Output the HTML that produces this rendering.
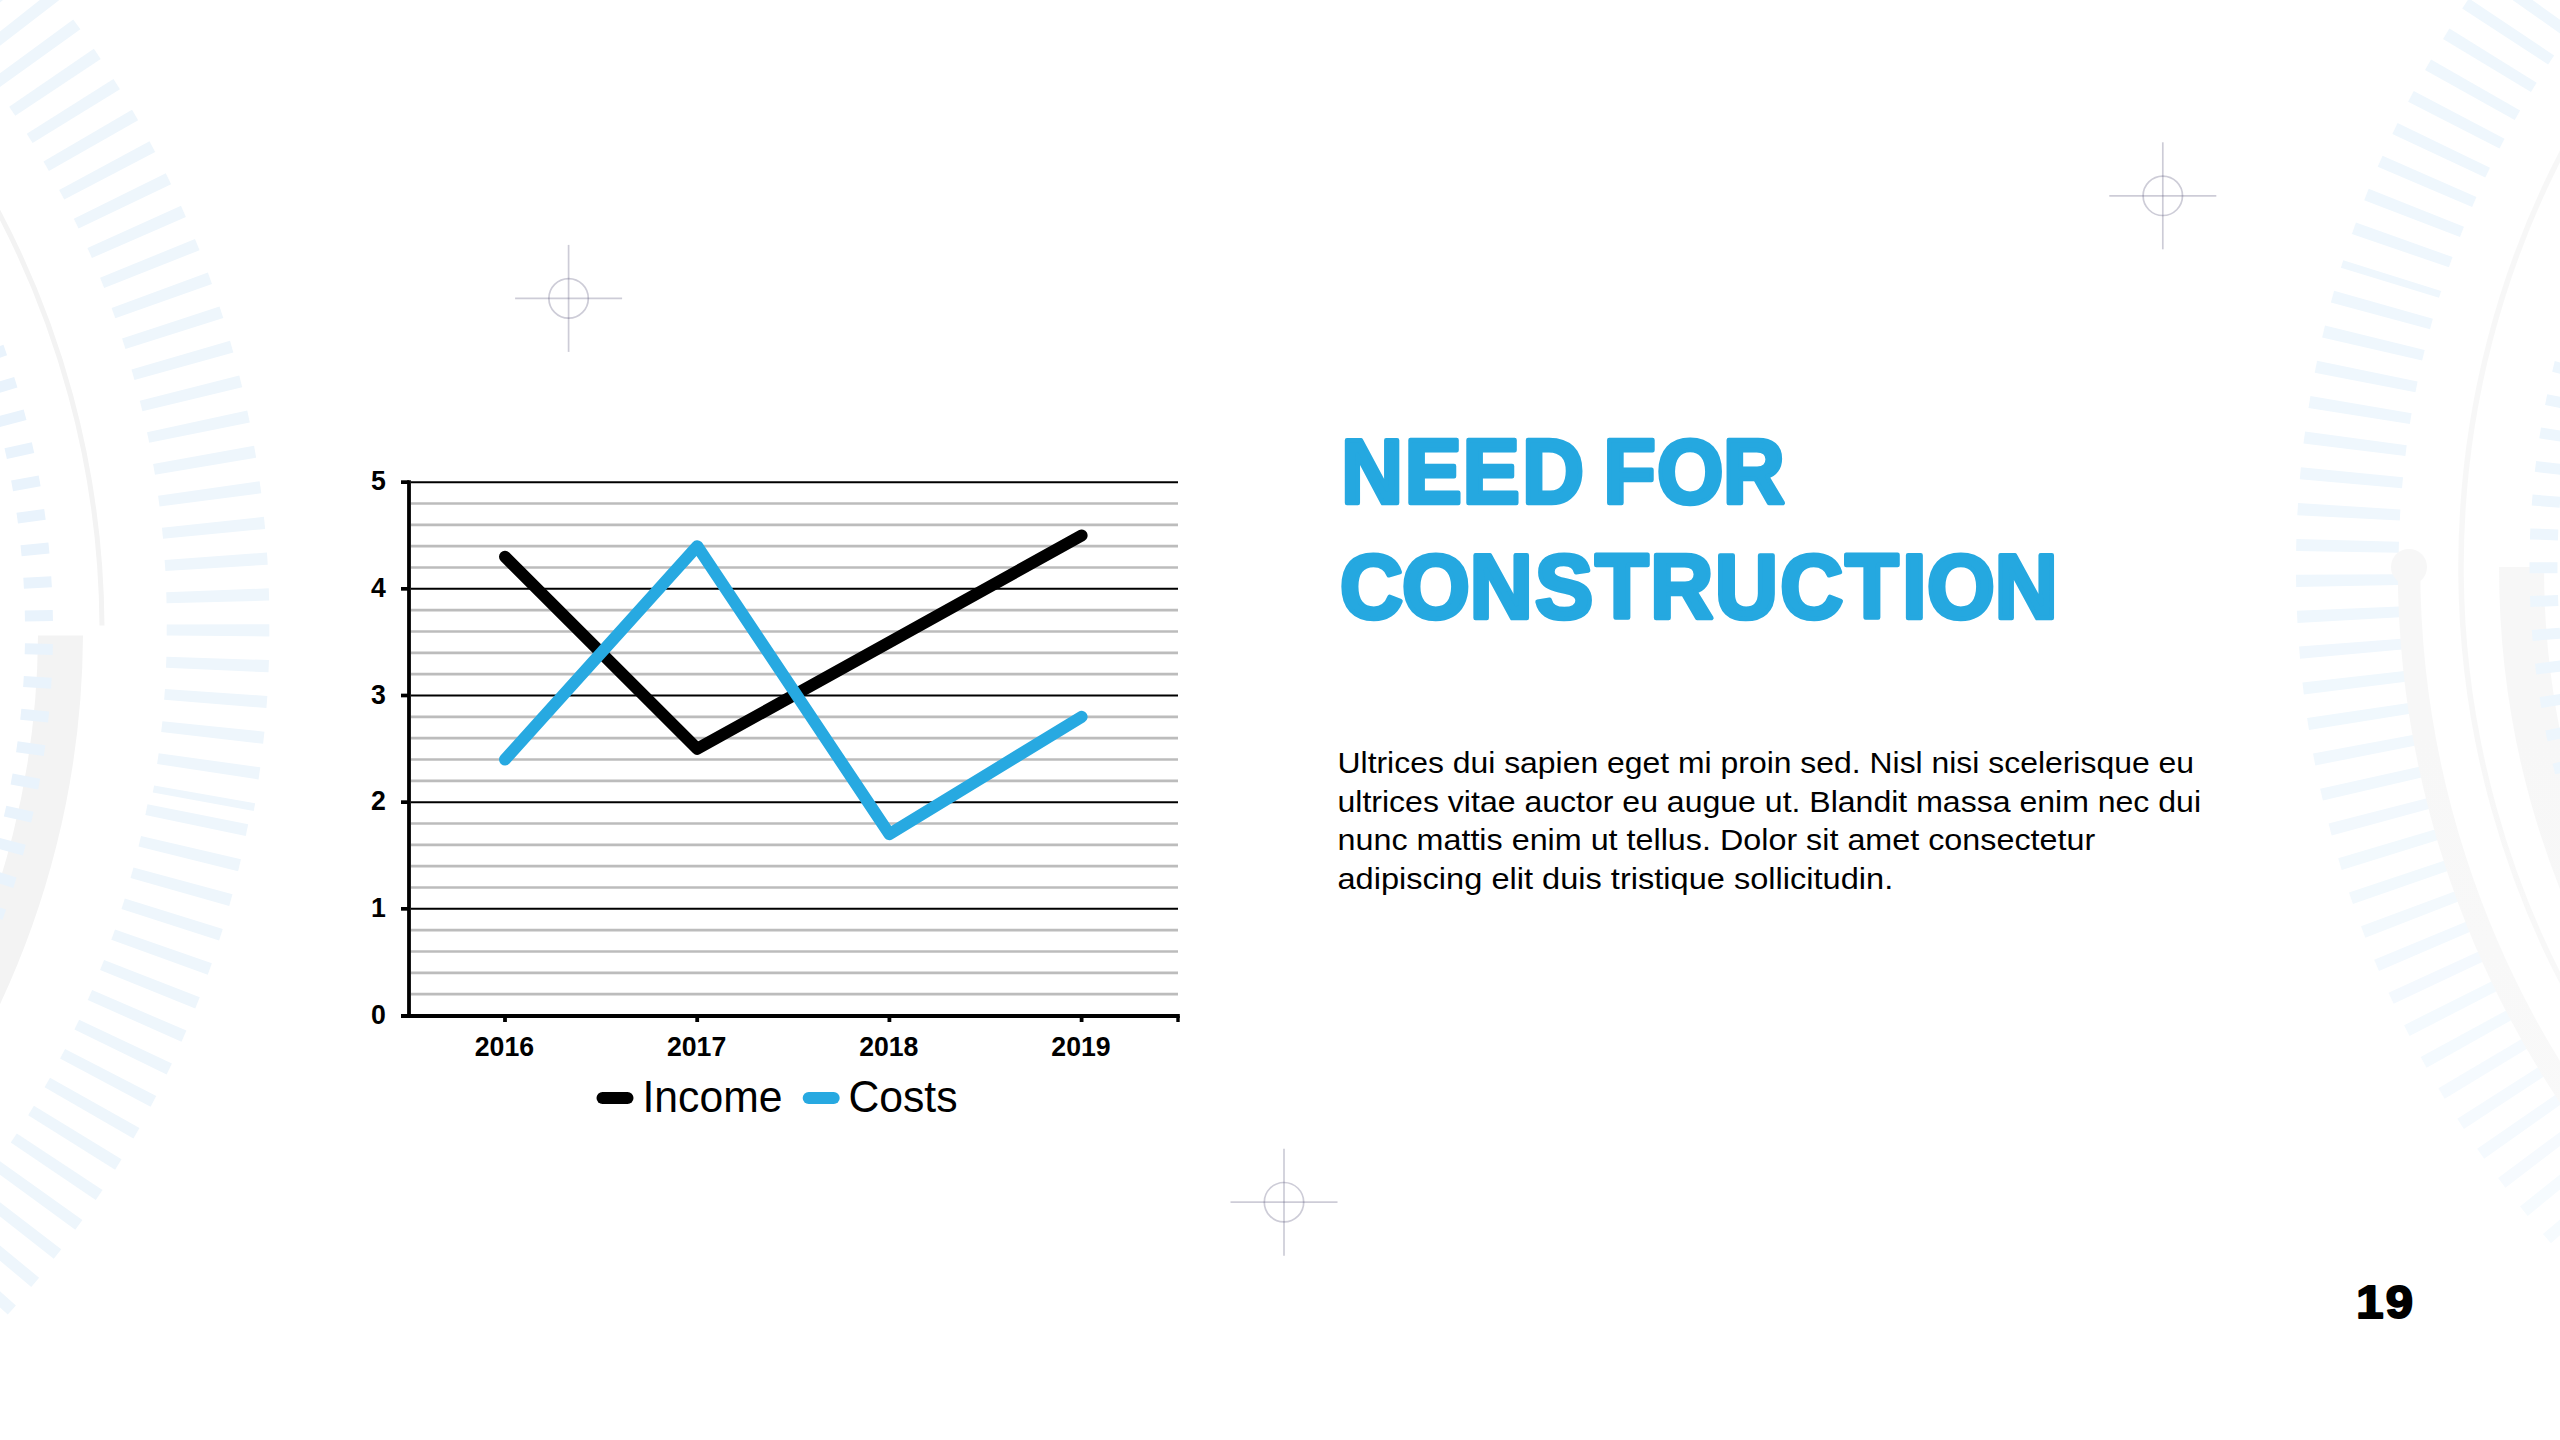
<!DOCTYPE html>
<html lang="en"><head><meta charset="utf-8"><title>Need for construction</title>
<style>
html,body{margin:0;padding:0;background:#fff;}
body{width:2560px;height:1440px;overflow:hidden;position:relative;font-family:"Liberation Sans",sans-serif;}
svg{position:absolute;left:0;top:0;display:block;}
</style></head><body>
<svg width="2560" height="1440" viewBox="0 0 2560 1440">
<defs><linearGradient id="fadeR" gradientUnits="userSpaceOnUse" x1="0" y1="560" x2="0" y2="1150"><stop offset="0" stop-color="#f7f7f7"/><stop offset="0.3" stop-color="#f7f7f7"/><stop offset="1" stop-color="#f9f9f9"/></linearGradient></defs>
<rect width="2560" height="1440" fill="#fff"/>
<g id="bg">
<polygon points="-62.21,-132.42 -71.29,-140.58 -139.36,-63.81 -131.25,-56.52" fill="#eef6fc"/>
<polygon points="-36.12,-107.61 -44.9,-116.08 -115.63,-41.74 -107.78,-34.18" fill="#eef6fc"/>
<polygon points="-10.91,-81.9 -19.39,-90.67 -92.68,-18.87 -85.11,-11.03" fill="#eef6fc"/>
<polygon points="13.37,-55.33 5.2,-64.39 -70.56,4.8 -63.27,12.89" fill="#eef6fc"/>
<polygon points="36.7,-27.92 28.86,-37.26 -49.29,29.22 -42.28,37.57" fill="#eef6fc"/>
<polygon points="59.05,0.28 51.54,-9.33 -28.9,54.37 -22.18,62.96" fill="#eef6fc"/>
<polygon points="80.39,29.25 73.22,19.38 -9.4,80.21 -2.99,89.03" fill="#eef6fc"/>
<polygon points="100.7,58.94 93.88,48.82 9.18,106.72 15.27,115.76" fill="#eef6fc"/>
<polygon points="119.95,89.32 113.49,78.97 26.8,133.86 32.58,143.1" fill="#eef6fc"/>
<polygon points="138.12,120.35 132.03,109.79 43.47,161.59 48.91,171.04" fill="#eef6fc"/>
<polygon points="155.19,152 149.47,141.22 59.14,189.89 64.25,199.52" fill="#eef6fc"/>
<polygon points="171.13,184.22 165.79,173.25 73.81,218.72 78.58,228.52" fill="#eef6fc"/>
<polygon points="185.92,216.98 180.97,205.82 87.46,248.03 91.88,258" fill="#eef6fc"/>
<polygon points="199.56,250.22 195,238.91 100.06,277.81 104.13,287.92" fill="#eef6fc"/>
<polygon points="212.01,283.92 207.86,272.45 111.61,308 115.32,318.24" fill="#eef6fc"/>
<polygon points="223.28,318.04 219.53,306.43 122.09,338.57 125.44,348.94" fill="#eef6fc"/>
<polygon points="233.34,352.51 230,340.78 131.49,369.48 134.47,379.97" fill="#eef6fc"/>
<polygon points="242.18,387.32 239.25,375.48 139.8,400.7 142.41,411.28" fill="#eef6fc"/>
<polygon points="249.79,422.41 247.28,410.47 147,432.19 149.24,442.85" fill="#eef6fc"/>
<polygon points="256.16,457.74 254.07,445.72 153.1,463.9 154.96,474.64" fill="#eef6fc"/>
<polygon points="261.29,493.26 259.62,481.17 158.07,495.8 159.56,506.6" fill="#eef6fc"/>
<polygon points="265.16,528.94 263.93,516.8 161.92,527.85 163.03,538.69" fill="#eef6fc"/>
<polygon points="267.78,564.72 266.97,552.55 164.64,560.01 165.37,570.89" fill="#eef6fc"/>
<polygon points="269.15,600.57 268.76,588.37 166.24,592.24 166.58,603.13" fill="#eef6fc"/>
<polygon points="269.29,636.43 269.33,624.23 166.73,624.5 166.69,635.4" fill="#eef6fc"/>
<polygon points="268.49,672.29 268.96,660.1 166.41,656.76 165.99,667.65" fill="#eef6fc"/>
<polygon points="266.43,708.1 267.33,695.94 164.96,689 164.16,699.87" fill="#eef6fc"/>
<polygon points="263.11,743.83 264.44,731.7 162.38,721.17 161.19,732.01" fill="#eef6fc"/>
<polygon points="258.54,779.42 260.3,767.35 158.67,753.24 157.1,764.03" fill="#eef6fc"/>
<polygon points="253.74,810.93 255.13,803.15 154.08,785.38 152.81,792.47" fill="#eef6fc"/>
<polygon points="245.75,836.08 248.18,824.13 147.52,804.27 145.34,814.96" fill="#eef6fc"/>
<polygon points="238.09,871.21 240.95,859.35 141.05,835.96 138.5,846.55" fill="#eef6fc"/>
<polygon points="229.2,906.05 232.48,894.3 133.46,867.4 130.54,877.9" fill="#eef6fc"/>
<polygon points="219.09,940.57 222.77,928.94 124.77,898.57 121.48,908.96" fill="#eef6fc"/>
<polygon points="207.76,974.73 211.85,963.24 114.98,929.43 111.32,939.7" fill="#eef6fc"/>
<polygon points="195.23,1008.48 199.72,997.14 104.1,959.94 100.08,970.07" fill="#eef6fc"/>
<polygon points="181.51,1041.77 186.4,1030.6 92.15,990.05 87.78,1000.04" fill="#eef6fc"/>
<polygon points="166.62,1074.58 171.9,1063.58 79.14,1019.74 74.42,1029.56" fill="#eef6fc"/>
<polygon points="150.57,1106.85 156.24,1096.04 65.08,1048.96 60.02,1058.61" fill="#eef6fc"/>
<polygon points="133.4,1138.54 139.44,1127.95 50,1077.68 44.6,1087.15" fill="#eef6fc"/>
<polygon points="115.11,1169.63 121.52,1159.25 33.91,1105.86 28.18,1115.13" fill="#eef6fc"/>
<polygon points="95.73,1200.06 102.51,1189.91 16.83,1133.46 10.77,1142.53" fill="#eef6fc"/>
<polygon points="75.28,1229.79 82.41,1219.89 -1.23,1160.46 -7.6,1169.31" fill="#eef6fc"/>
<polygon points="53.79,1258.8 61.26,1249.16 -20.23,1186.82 -26.9,1195.43" fill="#eef6fc"/>
<polygon points="31.28,1287.05 39.09,1277.67 -40.15,1212.5 -47.13,1220.87" fill="#eef6fc"/>
<polygon points="7.78,1314.49 15.92,1305.39 -60.98,1237.47 -68.25,1245.59" fill="#eef6fc"/>
<polygon points="-16.68,1341.09 -8.23,1332.29 -82.68,1261.7 -90.23,1269.56" fill="#eef6fc"/>
<polygon points="-42.07,1366.83 -33.31,1358.33 -105.23,1285.16 -113.05,1292.75" fill="#eef6fc"/>
<polygon points="-68.36,1391.66 -59.31,1383.48 -128.61,1307.81 -136.69,1315.12" fill="#eef6fc"/>
<path d="M101.98 625.5 A900 900 0 0 0 -18.58 181" fill="none" stroke="#f3f3f3" stroke-width="5"/>
<path d="M60.49 635.5 A858.5 858.5 0 0 1 -39.99 1034.04" fill="none" stroke="#f3f3f3" stroke-width="45"/>
<line x1="-45.22" y1="298.36" x2="-19.61" y2="287.04" stroke="#e9f3fc" stroke-width="11"/>
<line x1="-32.58" y1="328.57" x2="-6.54" y2="318.28" stroke="#e9f3fc" stroke-width="11"/>
<line x1="-21.16" y1="359.26" x2="5.27" y2="350.01" stroke="#e9f3fc" stroke-width="11"/>
<line x1="-10.96" y1="390.38" x2="15.82" y2="382.19" stroke="#e9f3fc" stroke-width="11"/>
<line x1="-2.01" y1="421.88" x2="25.07" y2="414.76" stroke="#e9f3fc" stroke-width="11"/>
<line x1="5.68" y1="453.71" x2="33.02" y2="447.68" stroke="#e9f3fc" stroke-width="11"/>
<line x1="12.09" y1="485.82" x2="39.66" y2="480.89" stroke="#e9f3fc" stroke-width="11"/>
<line x1="17.23" y1="518.17" x2="44.96" y2="514.33" stroke="#e9f3fc" stroke-width="11"/>
<line x1="21.07" y1="550.69" x2="48.94" y2="547.96" stroke="#e9f3fc" stroke-width="11"/>
<line x1="23.62" y1="583.34" x2="51.57" y2="581.72" stroke="#e9f3fc" stroke-width="11"/>
<line x1="24.86" y1="616.06" x2="52.86" y2="615.55" stroke="#e9f3fc" stroke-width="11"/>
<line x1="24.81" y1="648.81" x2="52.8" y2="649.42" stroke="#e9f3fc" stroke-width="11"/>
<line x1="23.45" y1="681.53" x2="51.39" y2="683.25" stroke="#e9f3fc" stroke-width="11"/>
<line x1="20.79" y1="714.17" x2="48.64" y2="717" stroke="#e9f3fc" stroke-width="11"/>
<line x1="16.83" y1="746.68" x2="44.55" y2="750.61" stroke="#e9f3fc" stroke-width="11"/>
<line x1="11.58" y1="779" x2="39.13" y2="784.04" stroke="#e9f3fc" stroke-width="11"/>
<line x1="5.05" y1="811.09" x2="32.38" y2="817.22" stroke="#e9f3fc" stroke-width="11"/>
<line x1="-2.75" y1="842.9" x2="24.31" y2="850.11" stroke="#e9f3fc" stroke-width="11"/>
<line x1="-11.81" y1="874.37" x2="14.94" y2="882.65" stroke="#e9f3fc" stroke-width="11"/>
<line x1="-22.11" y1="905.45" x2="4.29" y2="914.79" stroke="#e9f3fc" stroke-width="11"/>
<line x1="-33.64" y1="936.1" x2="-7.64" y2="946.48" stroke="#e9f3fc" stroke-width="11"/>
<polygon points="2617.37,1312 2626.3,1320.32 2695.75,1244.79 2687.77,1237.36" fill="#f7fbfe"/>
<polygon points="2591.66,1286.91 2600.29,1295.53 2672.35,1222.49 2664.64,1214.78" fill="#f7fbfe"/>
<polygon points="2566.85,1260.92 2575.17,1269.84 2649.74,1199.37 2642.31,1191.4" fill="#f7fbfe"/>
<polygon points="2542.96,1234.08 2550.96,1243.29 2627.97,1175.48 2620.82,1167.25" fill="#f6fbfe"/>
<polygon points="2520.03,1206.41 2527.71,1215.9 2607.04,1150.84 2600.18,1142.37" fill="#f6fbfe"/>
<polygon points="2498.09,1177.96 2505.42,1187.71 2587,1125.48 2580.44,1116.77" fill="#f6fafe"/>
<polygon points="2477.15,1148.76 2484.14,1158.76 2567.85,1099.43 2561.61,1090.49" fill="#f5fafe"/>
<polygon points="2457.26,1118.84 2463.9,1129.07 2549.64,1072.72 2543.71,1063.57" fill="#f5fafe"/>
<polygon points="2438.43,1088.23 2444.7,1098.7 2532.37,1045.39 2526.77,1036.04" fill="#f5fafe"/>
<polygon points="2420.69,1056.99 2426.59,1067.67 2516.07,1017.47 2510.8,1007.93" fill="#f4fafe"/>
<polygon points="2404.05,1025.14 2409.57,1036.02 2500.77,989 2495.83,979.28" fill="#f4fafe"/>
<polygon points="2388.54,992.73 2393.68,1003.79 2486.47,960 2481.88,950.11" fill="#f4f9fe"/>
<polygon points="2374.19,959.79 2378.93,971.03 2473.2,930.52 2468.96,920.48" fill="#f3f9fe"/>
<polygon points="2360.99,926.37 2365.34,937.77 2460.97,900.6 2457.09,890.41" fill="#f3f9fd"/>
<polygon points="2348.98,892.5 2352.92,904.05 2449.8,870.26 2446.28,859.94" fill="#f2f9fd"/>
<polygon points="2338.17,858.24 2341.7,869.91 2439.71,839.55 2436.55,829.12" fill="#f2f9fd"/>
<polygon points="2328.56,823.61 2331.68,835.41 2430.7,808.5 2427.9,797.97" fill="#f2f8fd"/>
<polygon points="2320.18,788.68 2322.89,800.57 2422.78,777.16 2420.36,766.53" fill="#f1f8fd"/>
<polygon points="2313.03,753.46 2315.31,765.45 2415.97,745.56 2413.93,734.85" fill="#f1f8fd"/>
<polygon points="2307.12,718.02 2308.98,730.08 2410.27,713.73 2408.61,702.96" fill="#f0f8fd"/>
<polygon points="2302.45,682.39 2303.9,694.51 2405.7,681.73 2404.41,670.91" fill="#f0f8fd"/>
<polygon points="2299.05,646.62 2300.06,658.78 2402.25,649.59 2401.34,638.73" fill="#f0f7fd"/>
<polygon points="2296.9,610.76 2297.49,622.94 2399.93,617.34 2399.41,606.46" fill="#eff7fd"/>
<polygon points="2296.01,574.84 2296.17,587.03 2398.75,585.04 2398.61,574.14" fill="#eff7fd"/>
<polygon points="2296.38,538.91 2296.11,551.1 2398.7,552.71 2398.94,541.81" fill="#eff7fd"/>
<polygon points="2298.02,503.01 2297.32,515.19 2399.79,520.4 2400.41,509.52" fill="#eff7fd"/>
<polygon points="2300.91,467.2 2299.79,479.35 2402.01,488.15 2403.01,477.3" fill="#eff7fd"/>
<polygon points="2305.06,431.51 2303.51,443.61 2405.36,456 2406.75,445.18" fill="#eff7fd"/>
<polygon points="2310.46,395.98 2308.49,408.02 2409.84,423.98 2411.61,413.22" fill="#eff7fd"/>
<polygon points="2317.11,360.67 2314.71,372.63 2415.44,392.14 2417.58,381.45" fill="#eff7fd"/>
<polygon points="2324.99,325.62 2322.18,337.49 2422.16,360.52 2424.67,349.91" fill="#eff7fd"/>
<polygon points="2334.1,290.86 2330.87,302.62 2429.98,329.15 2432.87,318.64" fill="#eff7fd"/>
<polygon points="2343.24,260.2 2340.9,267.74 2438.98,297.85 2441.12,290.97" fill="#eff7fd"/>
<polygon points="2355.94,222.41 2351.9,233.92 2448.9,267.34 2452.52,257.05" fill="#eff7fd"/>
<polygon points="2368.66,188.8 2364.21,200.16 2459.98,236.97 2463.96,226.82" fill="#eff7fd"/>
<polygon points="2382.54,155.66 2377.7,166.86 2472.12,207 2476.45,197" fill="#eff7fd"/>
<polygon points="2397.58,123.03 2392.35,134.05 2485.3,177.49 2489.98,167.64" fill="#eff7fd"/>
<polygon points="2413.76,90.94 2408.14,101.77 2499.51,148.45 2504.53,138.77" fill="#eff7fd"/>
<polygon points="2431.05,59.45 2425.06,70.07 2514.73,119.93 2520.09,110.44" fill="#eff7fd"/>
<polygon points="2449.44,28.58 2443.08,38.99 2530.95,91.96 2536.63,82.66" fill="#eff7fd"/>
<polygon points="2468.9,-1.62 2462.18,8.55 2548.13,64.58 2554.14,55.49" fill="#eff7fd"/>
<polygon points="2489.41,-31.13 2482.33,-21.19 2566.27,37.82 2572.59,28.94" fill="#eff7fd"/>
<polygon points="2510.95,-59.89 2503.52,-50.21 2585.33,11.71 2591.97,3.06" fill="#eff7fd"/>
<polygon points="2533.48,-87.88 2525.72,-78.47 2605.3,-13.71 2612.24,-22.12" fill="#eff7fd"/>
<polygon points="2556.98,-115.06 2548.89,-105.93 2626.16,-38.41 2633.38,-46.58" fill="#eff7fd"/>
<polygon points="2581.42,-141.4 2573.02,-132.55 2647.86,-62.37 2655.37,-70.28" fill="#eff7fd"/>
<polygon points="2606.77,-166.87 2598.06,-158.32 2670.39,-85.55 2678.17,-93.19" fill="#eff7fd"/>
<polygon points="2633,-191.42 2624,-183.19 2693.73,-107.93 2701.77,-115.28" fill="#eff7fd"/>
<polygon points="2660.07,-215.05 2650.79,-207.13 2717.83,-129.47 2726.13,-136.54" fill="#eff7fd"/>
<path d="M2574.09 129.7 A902 902 0 0 0 2581.85 1018" fill="none" stroke="url(#fadeR)" stroke-width="5.5"/>
<path d="M2409 567 A954 954 0 0 0 2591.2 1127.75" fill="none" stroke="url(#fadeR)" stroke-width="22.5"/>
<circle cx="2409" cy="567" r="18" fill="#f7f7f7"/>
<path d="M2521.5 567 A858.5 858.5 0 0 0 2595.72 916.18" fill="none" stroke="url(#fadeR)" stroke-width="45"/>
<line x1="2598.63" y1="310.08" x2="2572.03" y2="301.34" stroke="#edf6fd" stroke-width="11"/>
<line x1="2589.03" y1="341.39" x2="2562.1" y2="333.72" stroke="#edf6fd" stroke-width="11"/>
<line x1="2580.68" y1="373.06" x2="2553.47" y2="366.46" stroke="#edf6fd" stroke-width="11"/>
<line x1="2573.6" y1="405.03" x2="2546.14" y2="399.52" stroke="#edf6fd" stroke-width="11"/>
<line x1="2567.79" y1="437.26" x2="2540.14" y2="432.85" stroke="#edf6fd" stroke-width="11"/>
<line x1="2563.27" y1="469.7" x2="2535.47" y2="466.39" stroke="#edf6fd" stroke-width="11"/>
<line x1="2560.05" y1="502.28" x2="2532.14" y2="500.08" stroke="#edf6fd" stroke-width="11"/>
<line x1="2558.12" y1="534.98" x2="2530.14" y2="533.89" stroke="#edf6fd" stroke-width="11"/>
<line x1="2557.5" y1="567.72" x2="2529.5" y2="567.74" stroke="#edf6fd" stroke-width="11"/>
<line x1="2558.18" y1="600.46" x2="2530.2" y2="601.6" stroke="#edf6fd" stroke-width="11"/>
<line x1="2560.16" y1="633.15" x2="2532.25" y2="635.4" stroke="#edf6fd" stroke-width="11"/>
<line x1="2563.44" y1="665.73" x2="2535.65" y2="669.09" stroke="#edf6fd" stroke-width="11"/>
<line x1="2568.02" y1="698.16" x2="2540.38" y2="702.62" stroke="#edf6fd" stroke-width="11"/>
<line x1="2573.88" y1="730.38" x2="2546.44" y2="735.93" stroke="#edf6fd" stroke-width="11"/>
<line x1="2581.02" y1="762.34" x2="2553.82" y2="768.98" stroke="#edf6fd" stroke-width="11"/>
<line x1="2589.42" y1="793.99" x2="2562.51" y2="801.71" stroke="#edf6fd" stroke-width="11"/>
<line x1="2599.08" y1="825.28" x2="2572.49" y2="834.07" stroke="#edf6fd" stroke-width="11"/>
</g>
<g id="marks">
<g stroke="#5a557a" stroke-opacity="0.3" stroke-width="1.7" fill="none"><line x1="515.1" y1="298.4" x2="622.1" y2="298.4"/><line x1="568.6" y1="244.9" x2="568.6" y2="351.9"/><circle cx="568.6" cy="298.4" r="19.7"/></g>
<g stroke="#5a557a" stroke-opacity="0.3" stroke-width="1.7" fill="none"><line x1="2109.3" y1="195.8" x2="2216.3" y2="195.8"/><line x1="2162.8" y1="142.3" x2="2162.8" y2="249.3"/><circle cx="2162.8" cy="195.8" r="19.7"/></g>
<g stroke="#5a557a" stroke-opacity="0.3" stroke-width="1.7" fill="none"><line x1="1230.5" y1="1202.2" x2="1337.5" y2="1202.2"/><line x1="1284" y1="1148.7" x2="1284" y2="1255.7"/><circle cx="1284" cy="1202.2" r="19.7"/></g>
</g>
<g id="chart">
<line x1="411" y1="994.17" x2="1178" y2="994.17" stroke="#bcbcbc" stroke-width="2.67"/>
<line x1="411" y1="972.83" x2="1178" y2="972.83" stroke="#bcbcbc" stroke-width="2.67"/>
<line x1="411" y1="951.5" x2="1178" y2="951.5" stroke="#bcbcbc" stroke-width="2.67"/>
<line x1="411" y1="930.16" x2="1178" y2="930.16" stroke="#bcbcbc" stroke-width="2.67"/>
<line x1="411" y1="887.5" x2="1178" y2="887.5" stroke="#bcbcbc" stroke-width="2.67"/>
<line x1="411" y1="866.16" x2="1178" y2="866.16" stroke="#bcbcbc" stroke-width="2.67"/>
<line x1="411" y1="844.83" x2="1178" y2="844.83" stroke="#bcbcbc" stroke-width="2.67"/>
<line x1="411" y1="823.49" x2="1178" y2="823.49" stroke="#bcbcbc" stroke-width="2.67"/>
<line x1="411" y1="780.83" x2="1178" y2="780.83" stroke="#bcbcbc" stroke-width="2.67"/>
<line x1="411" y1="759.49" x2="1178" y2="759.49" stroke="#bcbcbc" stroke-width="2.67"/>
<line x1="411" y1="738.16" x2="1178" y2="738.16" stroke="#bcbcbc" stroke-width="2.67"/>
<line x1="411" y1="716.82" x2="1178" y2="716.82" stroke="#bcbcbc" stroke-width="2.67"/>
<line x1="411" y1="674.16" x2="1178" y2="674.16" stroke="#bcbcbc" stroke-width="2.67"/>
<line x1="411" y1="652.82" x2="1178" y2="652.82" stroke="#bcbcbc" stroke-width="2.67"/>
<line x1="411" y1="631.49" x2="1178" y2="631.49" stroke="#bcbcbc" stroke-width="2.67"/>
<line x1="411" y1="610.15" x2="1178" y2="610.15" stroke="#bcbcbc" stroke-width="2.67"/>
<line x1="411" y1="567.49" x2="1178" y2="567.49" stroke="#bcbcbc" stroke-width="2.67"/>
<line x1="411" y1="546.15" x2="1178" y2="546.15" stroke="#bcbcbc" stroke-width="2.67"/>
<line x1="411" y1="524.82" x2="1178" y2="524.82" stroke="#bcbcbc" stroke-width="2.67"/>
<line x1="411" y1="503.48" x2="1178" y2="503.48" stroke="#bcbcbc" stroke-width="2.67"/>
<line x1="411" y1="908.83" x2="1178" y2="908.83" stroke="#000" stroke-width="2"/>
<line x1="411" y1="802.16" x2="1178" y2="802.16" stroke="#000" stroke-width="2"/>
<line x1="411" y1="695.49" x2="1178" y2="695.49" stroke="#000" stroke-width="2"/>
<line x1="411" y1="588.82" x2="1178" y2="588.82" stroke="#000" stroke-width="2"/>
<line x1="411" y1="482.15" x2="1178" y2="482.15" stroke="#000" stroke-width="2"/>
<polyline points="505,556.82 697.2,748.83 889.4,642.15 1081.6,535.49" fill="none" stroke="#000" stroke-width="12" stroke-linecap="round" stroke-linejoin="round"/>
<polyline points="505,759.49 697.2,546.15 889.4,834.16 1081.6,716.82" fill="none" stroke="#27a9e1" stroke-width="12" stroke-linecap="round" stroke-linejoin="round"/>
<line x1="409" y1="480.3" x2="409" y2="1018" stroke="#000" stroke-width="3.8"/>
<line x1="401" y1="1016" x2="1179.8" y2="1016" stroke="#000" stroke-width="3.8"/>
<line x1="401" y1="908.83" x2="409" y2="908.83" stroke="#000" stroke-width="3.7"/>
<line x1="401" y1="802.16" x2="409" y2="802.16" stroke="#000" stroke-width="3.7"/>
<line x1="401" y1="695.49" x2="409" y2="695.49" stroke="#000" stroke-width="3.7"/>
<line x1="401" y1="588.82" x2="409" y2="588.82" stroke="#000" stroke-width="3.7"/>
<line x1="401" y1="482.15" x2="409" y2="482.15" stroke="#000" stroke-width="3.7"/>
<line x1="505" y1="1016" x2="505" y2="1022" stroke="#000" stroke-width="3.8"/>
<line x1="697.2" y1="1016" x2="697.2" y2="1022" stroke="#000" stroke-width="3.8"/>
<line x1="889.4" y1="1016" x2="889.4" y2="1022" stroke="#000" stroke-width="3.8"/>
<line x1="1081.6" y1="1016" x2="1081.6" y2="1022" stroke="#000" stroke-width="3.8"/>
<line x1="1178" y1="1016" x2="1178" y2="1022" stroke="#000" stroke-width="3.4"/>
<g font-family="'Liberation Sans', sans-serif" font-weight="700" font-size="28px" fill="#000">
<text x="370.9" y="1023.6" textLength="14.83" lengthAdjust="spacingAndGlyphs">0</text>
<text x="370.9" y="916.93" textLength="14.83" lengthAdjust="spacingAndGlyphs">1</text>
<text x="370.9" y="810.26" textLength="14.83" lengthAdjust="spacingAndGlyphs">2</text>
<text x="370.9" y="703.59" textLength="14.83" lengthAdjust="spacingAndGlyphs">3</text>
<text x="370.9" y="596.92" textLength="14.83" lengthAdjust="spacingAndGlyphs">4</text>
<text x="370.9" y="489.65" textLength="14.83" lengthAdjust="spacingAndGlyphs">5</text>
<text x="474.75" y="1056" textLength="59.3" lengthAdjust="spacingAndGlyphs">2016</text>
<text x="666.95" y="1056" textLength="59.3" lengthAdjust="spacingAndGlyphs">2017</text>
<text x="859.15" y="1056" textLength="59.3" lengthAdjust="spacingAndGlyphs">2018</text>
<text x="1051.35" y="1056" textLength="59.3" lengthAdjust="spacingAndGlyphs">2019</text>
</g>
<line x1="602.5" y1="1098" x2="627.5" y2="1098" stroke="#000" stroke-width="12" stroke-linecap="round"/>
<line x1="808.7" y1="1098" x2="833.7" y2="1098" stroke="#27a9e1" stroke-width="12" stroke-linecap="round"/>
<g font-family="'Liberation Sans', sans-serif" font-size="44.3px" fill="#000">
<text x="642.5" y="1111.6" textLength="139.9" lengthAdjust="spacingAndGlyphs">Income</text>
<text x="848.4" y="1111.6" textLength="109.1" lengthAdjust="spacingAndGlyphs">Costs</text>
</g>
</g>
<g id="copy">
<g transform="scale(0.94 1)" font-family="'Liberation Sans', sans-serif" font-weight="700" font-size="90.8px" fill="#25a8e0" stroke="#25a8e0" stroke-width="4.6" stroke-linejoin="round">
<text x="1426.92 1494.41 1556.01 1619.43 1682.99 1705.73 1762.71 1832.92" y="503.2">NEED FOR</text>
</g>
<g transform="scale(0.96 1)" font-family="'Liberation Sans', sans-serif" font-weight="700" font-size="90.8px" fill="#25a8e0" stroke="#25a8e0" stroke-width="4.6" stroke-linejoin="round">
<text x="1395.71 1460.41 1530.88 1598.94 1661.73 1719.01 1786.42 1854.36 1922.19 1981.5 2007.34 2077.86" y="618.1">CONSTRUCTION</text>
</g>
<g font-family="'Liberation Sans', sans-serif" font-size="29.5px" fill="#000">
<text x="1337.5" y="772.9" textLength="856.5" lengthAdjust="spacingAndGlyphs">Ultrices dui sapien eget mi proin sed. Nisl nisi scelerisque eu</text>
<text x="1337.5" y="811.6" textLength="863.5" lengthAdjust="spacingAndGlyphs">ultrices vitae auctor eu augue ut. Blandit massa enim nec dui</text>
<text x="1337.5" y="850.3" textLength="757.7" lengthAdjust="spacingAndGlyphs">nunc mattis enim ut tellus. Dolor sit amet consectetur</text>
<text x="1337.5" y="889" textLength="555.7" lengthAdjust="spacingAndGlyphs">adipiscing elit duis tristique sollicitudin.</text>
</g>
<g transform="scale(1.08 1)" font-family="'Liberation Sans', sans-serif" font-weight="700" font-size="45.3px" fill="#000" stroke="#000" stroke-width="2" stroke-linejoin="round">
<text x="2181.7 2208.98" y="1318">19</text>
</g>
</g>
</svg>
</body></html>
